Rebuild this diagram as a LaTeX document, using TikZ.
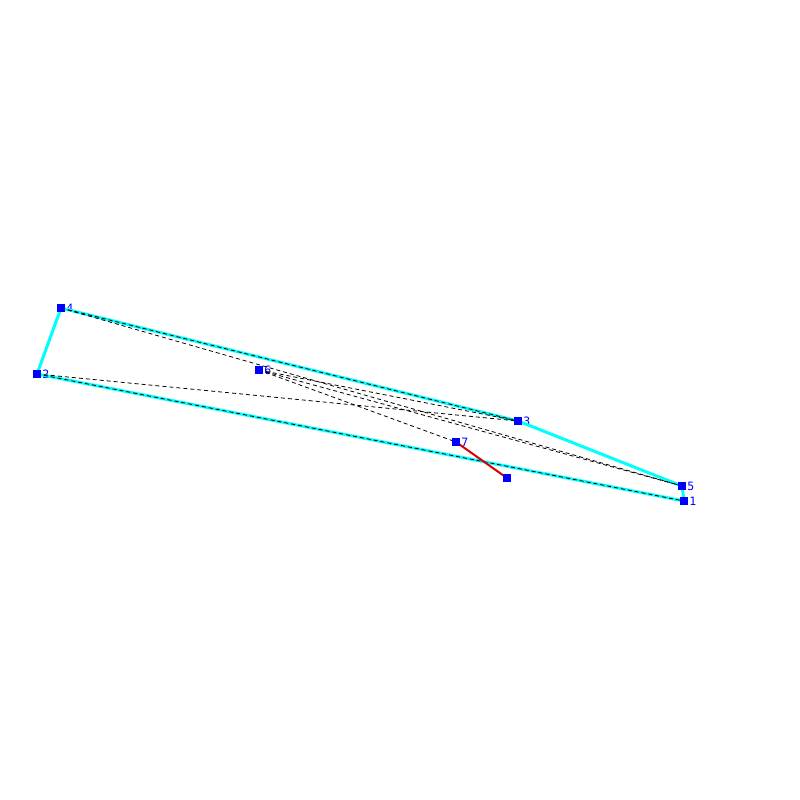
\documentclass[tikz,border=0pt]{standalone}
\usepackage{fontspec}
\setmonofont{DejaVu Sans Mono}
\usetikzlibrary{positioning}
\definecolor{hullcyan}{RGB}{0,255,255}
\definecolor{ptblue}{RGB}{0,0,255}
\definecolor{chosenred}{RGB}{220,0,0}

\begin{document}
\begin{tikzpicture}[
		x=1pt, y=-1pt,
		pt/.style={rectangle, fill=ptblue, inner sep=0pt, minimum size=8pt},
		ptlabel/.style={text=ptblue, font=\ttfamily\fontsize{11.5}{11.5}\selectfont, inner sep=0pt},
		hull/.style={hullcyan, line width=3pt},
		tested/.style={black, line width=0.8pt, dash pattern=on 4pt off 3pt},
		chosen/.style={chosenred, line width=2pt}
	]
	\useasboundingbox (0,0) rectangle (800,800);

	\node[pt] (p1) at (684,501) {};
	\node[pt] (p2) at (37,374) {};
	\node[pt] (p3) at (518,421) {};
	\node[pt] (p4) at (61,308) {};
	\node[pt] (p5) at (682,486) {};
	\node[pt] (p6) at (259,370) {};
	\node[pt] (p7) at (456,442) {};
	\node[pt] (q) at (507,478) {};

	\foreach \i in {1,...,7}
		\node[ptlabel, right=1pt of p\i] (l\i) {\i};

	% hull
	\foreach \i/\j in {p1/p2, p2/p4, p4/p3, p3/p5, p5/p1}
		\draw[hull] (\i.center) -- (\j.center);

	% tested edges
	\foreach \i/\j in {p2/p1, p4/p3, p2/p3, p4/p5, p6/p3, p6/p5, p6/p7}
		\draw[tested] (\i.center) -- (\j.center);

	\draw[chosen] (p7.center) -- (q.center);

	\foreach \i in {p1,p2,p3,p4,p5,p6,p7,q}
		\node[pt] at (\i) {};

\end{tikzpicture}
\end{document}
